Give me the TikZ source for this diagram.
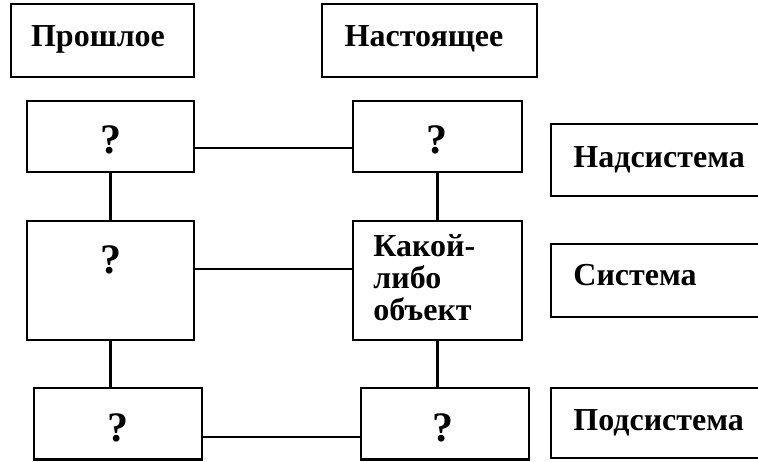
\documentclass[tikz,border=0pt]{standalone}
\usepackage{fontspec}
\setmainfont{Liberation Serif}
\usetikzlibrary{calc, fit}

\tikzset{
  box/.style = {draw, line width=1.1pt, inner sep=0pt},
  txt/.style = {font=\bfseries\fontsize{16}{16}\selectfont, inner sep=0pt},
  qm/.style = {font=\bfseries\fontsize{21}{22}\selectfont, inner sep=0pt, anchor=base},
  link/.style = {line width=1.1pt},
}

\begin{document}
\begin{tikzpicture}[x=0.5pt, y=-0.5pt]
			\useasboundingbox (0,0) rectangle (758,461);
			\clip (0,0) rectangle (758,461);

			% time headers
			\node[box, fit={(11,4) (194,77)}] (past) {};
			\node[box, fit={(322,4) (537,77)}] (now) {};
			\node[txt, anchor=base] (past-t) at (98,46) {Прошлое};
			\node[txt, anchor=base] (now-t) at (424,46) {Настоящее};

			% past column
			\node[box, fit={(27,101) (194,172)}] (p1) {};
			\node[box, fit={(27,221) (194,340)}] (p2) {};
			\node[box, fit={(34,388) (202,459.5)}] (p3) {};
			\node[qm] (p1-t) at (111,153) {?};
			\node[qm] (p2-t) at (111,273) {?};
			\node[qm] (p3-t) at (118,441) {?};

			% present column
			\node[box, fit={(353,101) (522,172)}] (n1) {};
			\node[box, fit={(353,221) (522,340)}] (n2) {};
			\node[box, fit={(361,388) (529,459.5)}] (n3) {};
			\node[qm] (n1-t) at (437,153) {?};
			\node[qm] (n3-t) at (443,441) {?};
			% base = last line of the node
			\node[txt, anchor=base west, align=left] (n2-t) at (373,320) {Какой-\\либо\\объект};

			% levels
			\node[box, fit={(551,124) (790,196)}] (sup) {};
			\node[box, fit={(551,244) (790,317)}] (sys) {};
			\node[box, fit={(551,388) (790,458)}] (sub) {};
			\node[txt, anchor=base west] (sup-t) at (573,167) {Надсистема};
			\node[txt, anchor=base west] (sys-t) at (573,285) {Система};
			\node[txt, anchor=base west] (sub-t) at (573,430) {Подсистема};

			% links
			\draw[link] ($(p1.east)+(0,11.5)$) -- ($(n1.west)+(0,11.5)$);
			\draw[link] ($(p2.east)+(0,-11.5)$) -- ($(n2.west)+(0,-11.5)$);
			\draw[link] ($(p3.east)+(0,13)$) -- ($(n3.west)+(0,13)$);

			\draw[link] (p1.south) -- (p2.north);
			\draw[link] (p2.south) -- (p2.south |- p3.north);
			\draw[link] (n1.south) -- (n2.north);
			\draw[link] (n2.south) -- (n2.south |- n3.north);
		\end{tikzpicture}
\end{document}
